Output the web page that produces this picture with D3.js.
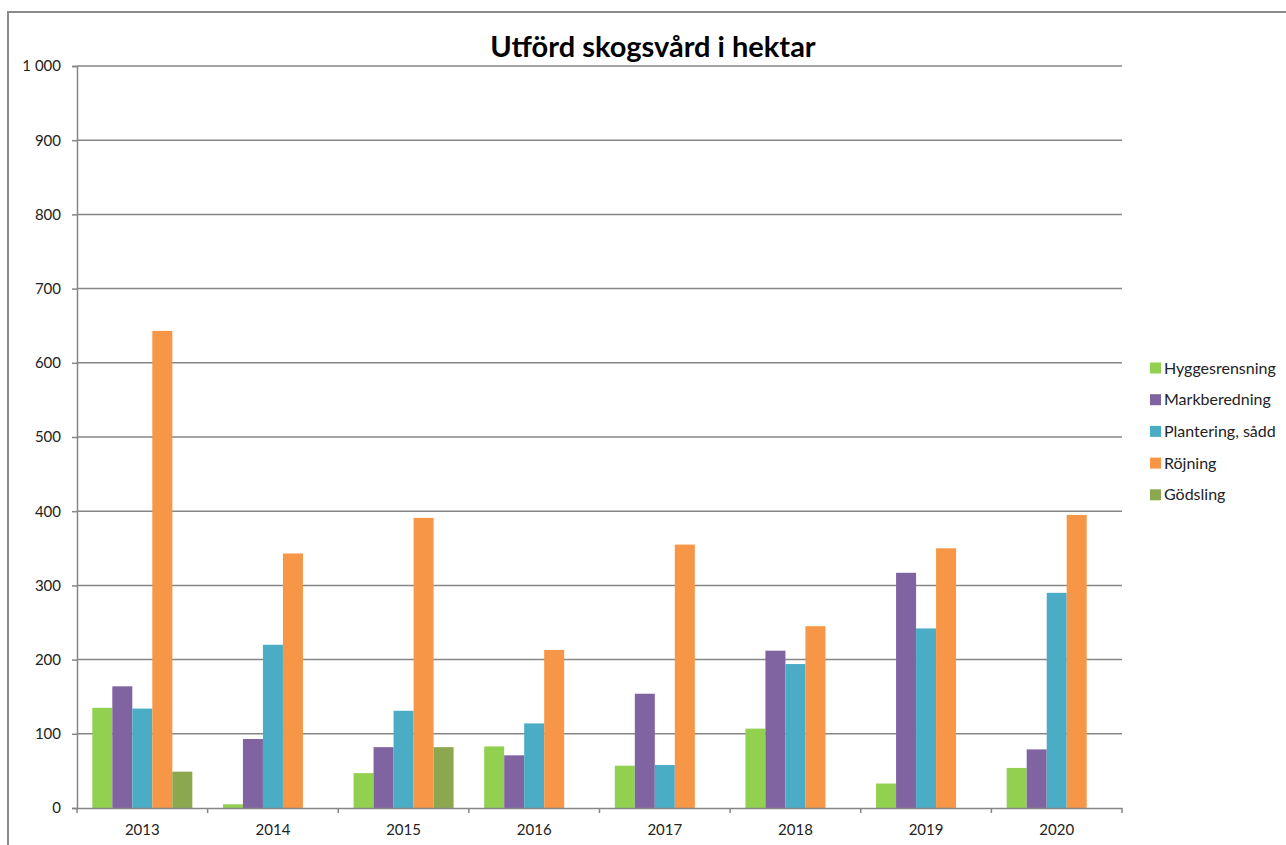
<!DOCTYPE html>
<html>
<head>
<meta charset="utf-8">
<script src="https://cdn.jsdelivr.net/npm/d3@7"></script>
<style>
  html, body { margin: 0; padding: 0; background: #fff; }
  svg { display: block; font-family: Lato, "Open Sans", sans-serif; }
</style>
</head>
<body>
<svg id="chart" width="1286" height="845"></svg>
<script>
const years = ["2013", "2014", "2015", "2016", "2017", "2018", "2019", "2020"];
const seriesNames = ["Hyggesrensning", "Markberedning", "Plantering, sådd", "Röjning", "Gödsling"];
const seriesColors = ["#92D050", "#8064A2", "#4BACC6", "#F79646", "#8CA84F"];
const hyggesrensning = [135, 5, 47, 83, 57, 107, 33, 54];
const markberedning  = [164, 93, 82, 71, 154, 212, 317, 79];
const plantering     = [134, 220, 131, 114, 58, 194, 242, 290];
const rojning        = [643, 343, 391, 213, 355, 245, 350, 395];
const godsling       = [49, 0, 82, 0, 0, 0, 0, 0];
const yTicks = [0, 100, 200, 300, 400, 500, 600, 700, 800, 900, 1000];
const titleText = "Utförd skogsvård i hektar";

const seriesValues = [hyggesrensning, markberedning, plantering, rojning, godsling];

const svg = d3.select("#chart");
const plot = { left: 77, right: 1122, top: 66, bottom: 808 };

// outer chart border
svg.append("rect")
  .attr("x", 8).attr("y", 12).attr("width", 1300).attr("height", 860)
  .attr("fill", "none").attr("stroke", "#8a8a8a").attr("stroke-width", 2);

const x0 = d3.scaleBand().domain(years).range([plot.left, plot.right]).padding(0);
const x1 = d3.scaleBand().domain(seriesNames).range([0, x0.bandwidth()])
  .paddingInner(0).paddingOuter(0.765);
const y = d3.scaleLinear().domain([0, 1000]).range([plot.bottom, plot.top]);

const fmt = v => d3.format(",")(v).replace(/,/g, " ");

// gridlines
svg.append("g").selectAll("line").data(yTicks.filter(t => t > 0)).join("line")
  .attr("x1", plot.left).attr("x2", plot.right)
  .attr("y1", d => y(d)).attr("y2", d => y(d))
  .attr("stroke", "#868686").attr("stroke-width", 1.5);

// bars
const groups = svg.append("g").selectAll("g").data(years).join("g")
  .attr("transform", d => `translate(${x0(d)},0)`);
groups.selectAll("rect")
  .data((yr, i) => seriesNames.map((s, k) => ({ s, k, v: seriesValues[k][i] })))
  .join("rect")
  .attr("x", d => x1(d.s))
  .attr("width", x1.bandwidth())
  .attr("y", d => y(d.v))
  .attr("height", d => y(0) - y(d.v))
  .attr("fill", d => seriesColors[d.k]);

// y axis
const yAxis = d3.axisLeft(y).tickValues(yTicks).tickFormat(fmt).tickSize(5).tickPadding(11);
const yg = svg.append("g").attr("transform", `translate(${plot.left},0)`).call(yAxis);
yg.select(".domain").attr("stroke", "#868686").attr("stroke-width", 1.5);
yg.selectAll(".tick line").attr("stroke", "#868686").attr("stroke-width", 1.5);
yg.selectAll(".tick text").attr("font-size", 15).attr("fill", "#222")
  .attr("font-family", "Lato, sans-serif");

// x axis
const xAxis = d3.axisBottom(x0).tickSize(0).tickPadding(16);
const xg = svg.append("g").attr("transform", `translate(0,${plot.bottom})`).call(xAxis);
xg.select(".domain").attr("stroke", "#868686").attr("stroke-width", 1.5);
xg.selectAll(".tick text").attr("font-size", 15).attr("fill", "#222")
  .attr("font-family", "Lato, sans-serif");
// category boundary ticks
const bounds = years.map(d => x0(d)).concat([x0(years[years.length - 1]) + x0.bandwidth()]);
xg.append("g").selectAll("line").data(bounds).join("line")
  .attr("x1", d => d).attr("x2", d => d).attr("y1", 0).attr("y2", 5)
  .attr("stroke", "#868686").attr("stroke-width", 1.5);

// title
svg.append("text")
  .attr("x", 653).attr("y", 57)
  .attr("text-anchor", "middle")
  .attr("font-size", 29).attr("font-weight", "bold").attr("fill", "#000")
  .text(titleText);

// legend
const legend = svg.append("g").attr("transform", "translate(1150,368)");
const li = legend.selectAll("g").data(seriesNames).join("g")
  .attr("transform", (d, i) => `translate(0,${i * 31.7})`);
li.append("rect").attr("x", 0).attr("y", -5.5).attr("width", 11).attr("height", 11)
  .attr("fill", (d, i) => seriesColors[i]);
li.append("text").attr("x", 14).attr("y", 0).attr("dy", "0.35em")
  .attr("font-size", 16).attr("fill", "#222").text(d => d);
</script>
</body>
</html>
